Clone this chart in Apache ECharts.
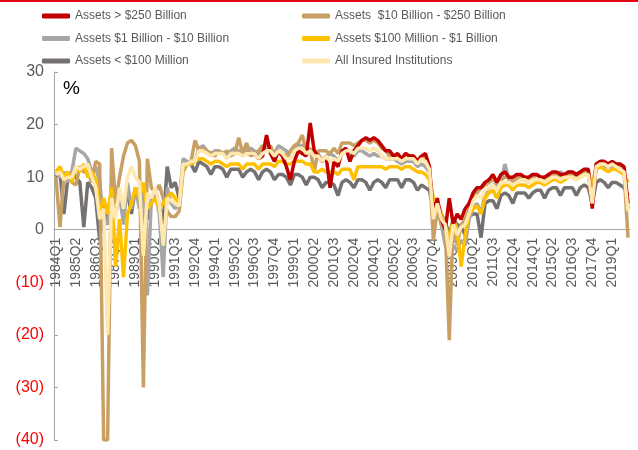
<!DOCTYPE html>
<html>
<head>
<meta charset="utf-8">
<script src="https://cdn.jsdelivr.net/npm/echarts@6/dist/echarts.min.js"></script>
<style>
  html, body { margin: 0; padding: 0; background: #fff; }
  #chart { width: 638px; height: 450px; }
</style>
</head>
<body>
<div id="chart"></div>
<script>
// quarters 1984Q1 .. 2020Q1
var firstYear = 1984, lastYear = 2020, lastQuarter = 1;
var quarters = [];
for (var y = firstYear; y <= lastYear; y++) {
  for (var q = 1; q <= 4; q++) {
    if (y === lastYear && q > lastQuarter) break;
    quarters.push(y + 'Q' + q);
  }
}

var yTicks = [-40, -30, -20, -10, 0, 10, 20, 30];

// Assets < $100 Million
var under100M = [
  10, 11, 3, 10,   11, 10, 9, 0.5,   9, 8, 6, -2,   5, 1, 6, 3,
  6, 4, 7, 3,   8, 6, 8, 2,   5, 7, 5, 1,   12, 8, 9, 6,
  12, 13, 12.5, 11,   13, 12.5, 12, 10.5,   12, 12, 11.5, 10,   11.5, 11.5, 11.5, 10,
  11, 11.5, 11, 9.5,   11, 11.5, 11, 9.5,   10.5, 10.5, 10, 8.5,   10.5, 10.5, 10, 8.5,
  10, 10, 9.5, 8,   9, 9, 8.5, 6.5,   9, 9.5, 9, 8,   9.5, 9.5, 9, 7.5,
  9, 9.5, 9, 8,   9.5, 9.5, 9.5, 8,   9.5, 9.5, 9, 7.5,   8.5, 8, 7.5, 4,
  5, 3, 1.5, -1,   2, 1, 0.5, -1,   2.5, 3, 3, -1.5,   5, 5.5, 5.5, 4,
  6.5, 7, 6.5, 5,   7, 7, 7, 6,   7, 7.5, 7.5, 6,   7.5, 8, 8, 6.5,
  8, 8, 8, 6.5,   8, 8.5, 8, 5,   9, 9.5, 9, 8,   9, 9, 8.5, 8,
  6.5
];

// Assets $10 Billion - $250 Billion
var b10to250 = [
  10, 0.5, 10, 11,   9, 8.5, 12, 11,   11, 9, 13, 12.5,   -40, -40, 15.5, 5,
  10, 14, 16.5, 17,   16, 13, -30, 13.5,   8, 7, 8.5, 6,   3.5, 2.5, 2.5, 3.5,
  11, 12.5, 13, 17,   15, 15.5, 15, 14.5,   14, 15, 14.5, 15,   14, 14.5, 17.5, 14.5,
  16.5, 14, 14.5, 15,   16, 15, 16, 14,   15, 14.5, 14, 15,   16, 16.5, 18, 15,
  15.5, 11, 15, 15,   15, 14.5, 15.5, 14.5,   16.5, 16.5, 16.5, 16,   16.5, 17, 17, 16.5,
  17, 16.5, 15.5, 15,   14, 13.5, 14, 13.5,   14.5, 14, 14, 13,   14, 13.5, 12, -2,
  4, 1, 0.5, -21,   2, -3, 1, 2,   4, 6, 7, 8,   8.5, 9, 9.5, 9,
  9.5, 10, 10, 9,   10, 10, 9.5, 9,   10, 10.5, 10, 9.5,   10, 10.5, 10.5, 10,
  10, 10.5, 10.5, 10,   10.5, 11, 11, 8,   12.5, 13, 12.5, 12.5,   12.5, 12.5, 12, 11,
  -1.5
];

// Assets $1 Billion - $10 Billion
var b1to10 = [
  11, 10, 11, 9,   11, 15.5, 15, 14.5,   13.5, 11, 12, 9,   2, 1, 8, 5,
  7, 1, 9, 4,   8, 4, 7, -12.5,   6, 7, 3, -9,   8, 5, 4, 5,
  13.5, 13, 12.5, 13,   15.5, 16, 15, 14.5,   15, 15, 14.5, 14,   15, 15.5, 15, 14,
  15, 15.5, 15, 14,   15.5, 16, 15.5, 14.5,   16, 15.5, 15, 13.5,   15.5, 16, 16, 14.5,
  15, 15, 14.5, 13,   14, 14.5, 14, 13,   14.5, 15, 15, 14,   15, 15, 14.5, 14,
  14.5, 14, 14, 13.5,   13.5, 13.5, 13, 12.5,   13, 13, 13, 12,   12.5, 12, 11, 5,
  4, 1, -3, -5,   -3, -4, -2, -3,   2, 4, 5, 3,   7, 8, 8.5, 8.5,
  9, 12.5, 9.5, 9,   9.5, 10, 10, 9.5,   10, 10.5, 10, 10,   10, 10.5, 10.5, 11,
  10.5, 11, 11, 10.5,   11, 11.5, 11, 6,   12, 12.5, 12, 12,   12, 12, 11.5, 11,
  4
];

// Assets $100 Million - $1 Billion
var m100to1B = [
  11, 12, 10, 11,   9, 12, 11, 12.5,   10, 11, 9.5, 3,   6, 3, 8, -7,
  2, -9, 3, 5,   8, 6, 9, 4,   5, 6, 4, 5,   6, 7, 6, 5,
  12, 12.5, 12.5, 13,   13.5, 13.5, 13, 12.5,   13, 13, 12.5, 12,   12.5, 12.5, 12.5, 11.5,
  12.5, 12.5, 12.5, 11.5,   12.5, 12.5, 12.5, 12,   13, 13, 12.5, 12.5,   13, 13, 13, 12.5,
  12.5, 11, 11, 11.5,   11, 11, 11, 10.5,   11.5, 11.5, 11.5, 9.5,   12, 12, 12, 12,
  12, 12, 12, 11.5,   12, 12, 12, 11.5,   12, 12, 11.5, 11,   11, 10.5, 9.5, 6,
  5, 3, 1, -2,   2, 0, -7, -1,   3, 4, 4.5, 3,   6, 7, 7.5, 6,
  8, 8.5, 8.5, 7.5,   8.5, 8.5, 8.5, 8,   8.5, 9, 9, 8.5,   9, 9.5, 9.5, 9,
  9.5, 10, 10, 9.5,   10, 10.5, 10.5, 8,   11.5, 12, 11.5, 11,   11.5, 11.5, 11, 10.5,
  9
];

// Assets > $250 Billion (starts 1996)
var over250B = [
  null, null, null, null,   null, null, null, null,   null, null, null, null,   null, null, null, null,
  null, null, null, null,   null, null, null, null,   null, null, null, null,   null, null, null, null,
  null, null, null, null,   null, null, null, null,   null, null, null, null,   null, null, null, null,
  14.5, 14.5, 14.5, 13.5,   14, 18, 14.5, 13,   15, 14, 12, 9.5,   13, 15, 14.5, 14,
  20.3, 15, 14, 13,   14, 8, 13, 12,   15, 15.5, 13, 15,   16, 17, 17.5, 17,
  17.5, 17, 16, 15,   15, 14, 14.5, 13.5,   14.5, 14, 14, 13,   14, 14.5, 12, 3,
  6, 2, 0, 6,   1, 3, 2, 4,   5, 7, 8, 8,   9, 9.5, 10.5, 9,
  10.5, 11, 10, 10,   10.5, 10.5, 10, 10,   10.5, 10.5, 10, 10,   10.5, 11, 11, 10.5,
  10.5, 11, 11, 10.5,   11, 11.5, 11.5, 4,   12.5, 13, 13, 12.5,   13, 12.5, 12.5, 12,
  5
];

// All Insured Institutions
var allInsured = [
  10.5, 11, 9.5, 10,   10, 12, 11.5, 12,   12.5, 10, 8, 2,   4, -20, 6, 2,
  8, 4, 10, 12,   10, 9, -5, 7,   6, 8, 5, -3,   6, 5.5, 5, 4.5,
  12.5, 12.5, 13, 13,   15, 15, 14.5, 14,   14.5, 14.5, 14.5, 13.5,   14.5, 14.5, 14.5, 14,
  14.5, 14.5, 14.5, 13.5,   14.5, 15, 15, 14,   15, 14.5, 13.5, 13.5,   15, 15.5, 15.5, 14.5,
  15, 14, 14, 13,   14, 13, 13.5, 13,   14.5, 15, 15, 14.5,   15.5, 15.5, 15.5, 15,
  15.5, 15, 14, 13.5,   13.5, 13.5, 13.5, 13,   13.5, 13.5, 13.5, 12.5,   13.5, 13, 11.5, 2,
  5, 2, 1, -5,   1, -1, 0.5, 1,   3, 5.5, 6.5, 6,   7.5, 8, 8.5, 7.5,
  9, 9, 9, 8.5,   9, 9.5, 9.5, 9,   9.5, 9.5, 9.5, 9,   9.5, 10, 10, 9.5,
  10, 10, 10, 9.5,   10, 10.5, 10.5, 5,   12, 12.5, 12.5, 12,   12.5, 12, 11.5, 11,
  3.5
];

var names = {
  over250B: 'Assets > $250 Billion',
  b10to250: 'Assets  $10 Billion - $250 Billion',
  b1to10: 'Assets $1 Billion - $10 Billion',
  m100to1B: 'Assets $100 Million - $1 Billion',
  under100M: 'Assets < $100 Million',
  all: 'All Insured Institutions'
};

var chart = echarts.init(document.getElementById('chart'));

function line(name, data, color) {
  return {
    name: name,
    type: 'line',
    data: data,
    symbol: 'none',
    connectNulls: false,
    lineStyle: { width: 3.5, color: color },
    itemStyle: { color: color },
    emphasis: { disabled: true }
  };
}

var legendText = {
  fontFamily: "'Liberation Sans', Arial, sans-serif",
  fontSize: 12,
  color: '#595959',
  lineHeight: 16
};

// grid geometry: y=0 sits 30/70 of the way down the plot
var gridTop = 72, gridBottom = 10, chartH = 450;
var plotH = chartH - gridTop - gridBottom;
var zeroOffset = -plotH * (0 - yTicks[0]) / (yTicks[yTicks.length - 1] - yTicks[0]);

var option = {
  animation: false,
  backgroundColor: '#fff',
  grid: { left: 54, right: 8, top: gridTop, bottom: gridBottom, containLabel: false, outerBoundsMode: 'none' },
  legend: [{
    orient: 'vertical',
    left: 42, top: 8, padding: 0,
    itemWidth: 28, itemHeight: 5, itemGap: 6.5,
    icon: 'roundRect',
    textStyle: legendText,
    data: [names.over250B, names.b1to10, names.under100M]
  }, {
    orient: 'vertical',
    left: 302, top: 8, padding: 0,
    itemWidth: 28, itemHeight: 5, itemGap: 6.5,
    icon: 'roundRect',
    textStyle: legendText,
    data: [names.b10to250, names.m100to1B, names.all]
  }],
  xAxis: {
    type: 'category',
    data: quarters,
    boundaryGap: true,
    offset: zeroOffset,
    axisLine: { onZero: false, lineStyle: { color: '#A6A6A6', width: 1 } },
    axisTick: { show: false },
    axisLabel: {
      interval: 4,
      rotate: 90,
      margin: 8,
      fontFamily: "'Liberation Sans', Arial, sans-serif",
      fontSize: 14,
      color: '#595959'
    },
    splitLine: { show: false }
  },
  yAxis: {
    type: 'value',
    min: yTicks[0],
    max: yTicks[yTicks.length - 1],
    interval: 10,
    axisLine: { show: true, lineStyle: { color: '#A6A6A6', width: 1 } },
    axisTick: { show: true, inside: true, length: 4, lineStyle: { color: '#A6A6A6' } },
    splitLine: { show: false },
    axisLabel: {
      margin: 10,
      fontFamily: "'Liberation Sans', Arial, sans-serif",
      fontSize: 16,
      color: function (v) { return v < 0 ? '#FF0000' : '#595959'; },
      formatter: function (v) { return v < 0 ? '(' + (-v) + ')' : String(v); }
    }
  },
  graphic: [{
    type: 'rect',
    left: 0, top: 0,
    shape: { width: 638, height: 2 },
    style: { fill: '#E30613' }
  }, {
    type: 'text',
    left: 63, top: 79,
    style: {
      text: '%',
      fontFamily: "'Liberation Sans', Arial, sans-serif",
      fontSize: 19,
      fill: '#000'
    }
  }],
  series: [
    line(names.under100M, under100M, '#767171'),
    line(names.b1to10, b1to10, '#A6A6A6'),
    line(names.b10to250, b10to250, '#C9A063'),
    line(names.m100to1B, m100to1B, '#FFC000'),
    line(names.over250B, over250B, '#C00000'),
    line(names.all, allInsured, '#FFE8B0')
  ]
};

chart.setOption(option);
</script>
</body>
</html>
